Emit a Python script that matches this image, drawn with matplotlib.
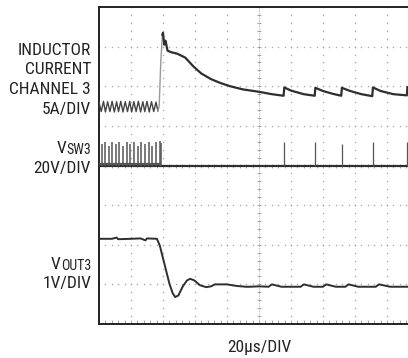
import numpy as np
import matplotlib
import matplotlib.pyplot as plt

matplotlib.use('Agg')

# ---- trace data (time in divisions, amplitude in divisions from bottom) ----
# inductor current, ripple before the load step
il_pre_t = [0.00, 0.07, 0.14, 0.20, 0.27, 0.34, 0.41, 0.48, 0.55, 0.61, 0.68, 0.75,
            0.82, 0.89, 0.96, 1.02, 1.09, 1.16, 1.23, 1.30, 1.37, 1.43, 1.50, 1.57,
            1.64, 1.71, 1.78, 1.84]
il_pre_v = [5.60, 5.36, 5.62, 5.35, 5.61, 5.36, 5.62, 5.35, 5.61, 5.36, 5.62, 5.35,
            5.61, 5.36, 5.62, 5.35, 5.61, 5.36, 5.62, 5.35, 5.61, 5.36, 5.62, 5.35,
            5.61, 5.36, 5.60, 5.38]
# fast rising edge
il_edge_t = [1.84, 1.88, 1.93, 1.98]
il_edge_v = [5.38, 5.50, 6.60, 7.30]
# decay after the step, with small jumps at each switching pulse
il_post_t = [1.98, 2.00, 2.04, 2.08, 2.14, 2.25, 2.45, 2.70, 2.95, 3.20, 3.50, 3.80,
             4.10, 4.50, 5.00, 5.40, 5.77, 5.79, 6.00, 6.40, 6.74, 6.76, 7.00, 7.30,
             7.57, 7.59, 7.85, 8.20, 8.54, 8.56, 8.80, 9.20, 9.62, 9.64, 9.80]
il_post_v = [7.30, 7.35, 7.05, 7.15, 6.90, 6.86, 6.82, 6.72, 6.50, 6.32, 6.18, 6.08,
             6.00, 5.92, 5.86, 5.80, 5.76, 5.97, 5.89, 5.80, 5.76, 5.96, 5.88, 5.81,
             5.76, 5.96, 5.88, 5.80, 5.75, 5.97, 5.88, 5.80, 5.77, 5.98, 5.93]

# switch node: pulse times and tops (baseline at 4 div)
sw_base = 4.0
sw_pulse_t = [0.08, 0.19, 0.30, 0.42, 0.53, 0.64, 0.76, 0.87, 0.98, 1.10, 1.21, 1.32,
              1.44, 1.55, 1.66, 1.78, 1.90, 1.95]
sw_pulse_v = [4.55, 4.60, 4.50, 4.60, 4.55, 4.60, 4.48, 4.60, 4.55, 4.60, 4.50, 4.60,
              4.55, 4.60, 4.50, 4.60, 4.62, 4.58]
sw_spike_t = [5.78, 6.75, 7.58, 8.55, 9.63]
sw_spike_v = [4.60, 4.60, 4.55, 4.60, 4.60]

# output voltage
vout_t = [0.00, 0.40, 0.55, 0.60, 1.00, 1.30, 1.45, 1.50, 1.81, 1.90, 2.05, 2.20,
          2.30, 2.38, 2.48, 2.62, 2.75, 2.85, 2.98, 3.15, 3.35, 3.50, 3.62, 4.00,
          4.30, 4.60, 4.70, 5.00, 5.30, 5.40, 5.70, 6.30, 6.40, 6.70, 7.00, 7.10,
          7.40, 7.70, 7.80, 8.10, 8.65, 8.75, 9.10, 9.70]
vout_v = [2.15, 2.15, 2.18, 2.14, 2.15, 2.16, 2.11, 2.16, 2.15, 1.98, 1.50, 1.02,
          0.78, 0.68, 0.72, 0.95, 1.10, 1.14, 1.10, 0.98, 0.93, 0.95, 1.00, 1.00,
          0.96, 0.94, 0.94, 0.95, 0.94, 1.00, 0.94, 0.94, 1.00, 0.94, 0.94, 1.00,
          0.94, 0.94, 1.00, 0.94, 0.94, 1.00, 0.94, 0.94]

ch_labels = [["INDUCTOR", "CURRENT", "CHANNEL 3", "5A/DIV"],
             [("V", "SW3"), "20V/DIV"],
             [("V", "OUT3"), "1V/DIV"]]
time_label = "20µs/DIV"

W, H = 408, 358
plt.rcParams['font.family'] = ['Roboto Condensed', 'Archivo Narrow', 'DejaVu Sans']

fig = plt.figure(figsize=(W / 100, H / 100), dpi=100)
# the screen is wider than the image: right edge is cropped off
ax = fig.add_axes([99 / W, (H - 324) / H, 320 / W, 317 / H])
ax.set_xlim(0, 10)
ax.set_ylim(0, 8)
ax.set_xticks([])
ax.set_yticks([])
for s in ['left', 'top', 'bottom']:
    ax.spines[s].set_linewidth(1.4)
    ax.spines[s].set_color('#222222')
ax.spines['right'].set_visible(False)

# graticule dots
dot = dict(color='#aaaaaa', s=1.2, linewidths=0, zorder=1)
xs = np.arange(0, 10.01, 0.2)
ys = np.arange(0, 8.01, 0.2)
for k in range(1, 8):
    ax.scatter(xs, np.full_like(xs, k), **dot)
for k in range(1, 10):
    ax.scatter(np.full_like(ys, k), ys, **dot)
# center cross with minor ticks
ax.axvline(5, color='#bbbbbb', lw=0.6, ls=(0, (2, 1)), zorder=1)
ax.scatter(np.full_like(ys, 5), ys, marker='_', s=10, color='#999999', linewidths=0.6, zorder=1)
ax.scatter(xs, np.full_like(xs, 4), marker='|', s=10, color='#999999', linewidths=0.6, zorder=1)
ax.scatter(xs, np.full_like(xs, 0.06), marker='|', s=6, color='#999999', linewidths=0.6, zorder=1)

trace = '#2e2e2e'
ax.plot(il_pre_t, il_pre_v, color='#444444', lw=1.0, zorder=3)
ax.plot(il_edge_t, il_edge_v, color='#999999', lw=1.0, zorder=3)
ax.plot(il_post_t, il_post_v, color=trace, lw=1.6, zorder=3)

ax.hlines(sw_base, 0, 10, color=trace, lw=1.6, zorder=3)
ax.hlines(sw_base + 0.05, 0, sw_pulse_t[-1], color='#555555', lw=1.6, zorder=3)
ax.vlines(sw_pulse_t, sw_base, sw_pulse_v, color='#555555', lw=1.1, zorder=3)
ax.vlines(sw_spike_t, sw_base, sw_spike_v, color='#555555', lw=0.9, zorder=3)

ax.plot(vout_t, vout_v, color=trace, lw=1.4, zorder=3)

# channel labels, right aligned at x = 91 px
xr = 91 / W
def fy(y):
    return 1 - y / H

base_y = [[55, 74, 94, 114], [153, 173], [269, 288]]
fig.canvas.draw()
rend = fig.canvas.get_renderer()
for lines, ys_ in zip(ch_labels, base_y):
    for lab, by in zip(lines, ys_):
        if isinstance(lab, tuple):
            sub = fig.text(xr, fy(by + 1), lab[1], fontsize=10, ha='right',
                           va='baseline', color='#222222')
            wpx = sub.get_window_extent(rend).width
            fig.text(xr - wpx / W, fy(by), lab[0], fontsize=12.5, ha='right',
                     va='baseline', color='#222222')
        else:
            fig.text(xr, fy(by), lab, fontsize=12.5, ha='right', va='baseline',
                     color='#222222')

fig.text(259 / W, fy(352), time_label, fontsize=12.5, ha='center', va='baseline',
         color='#222222')

fig.savefig('out.png', dpi=100)
